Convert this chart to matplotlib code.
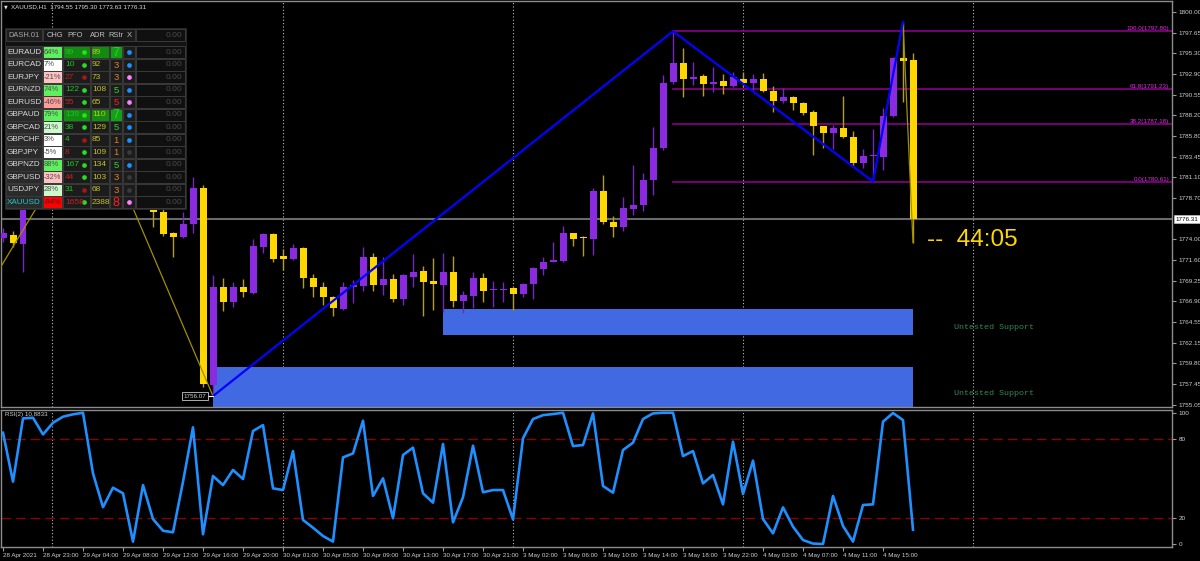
import numpy as np
import matplotlib.pyplot as plt
from matplotlib.patches import Rectangle
from matplotlib.transforms import blended_transform_factory

plt.rcParams['font.family'] = ['Liberation Sans', 'DejaVu Sans']

# XAUUSD H1, 28 Apr 2021 19:00 -> 4 May 2021 18:00 (92 bars)
opens = [1774.15, 1774.49, 1773.46, 1780.50, 1782.50, 1781.80, 1784.00, 1785.60, 1786.80, 1787.70,
         1785.20, 1782.90, 1783.50, 1783.20, 1778.20, 1778.90, 1777.12, 1774.72, 1774.26, 1775.75,
         1779.87, 1757.34, 1768.54, 1766.83, 1768.54, 1767.86, 1773.12, 1774.61, 1772.09, 1771.75,
         1773.01, 1769.57, 1768.54, 1767.40, 1766.03, 1768.54, 1768.66, 1771.97, 1768.77, 1769.46,
         1767.17, 1769.69, 1770.38, 1769.23, 1768.77, 1770.26, 1766.94, 1767.52, 1769.57, 1768.15,
         1768.20, 1768.43, 1767.75, 1768.89, 1770.60, 1771.40, 1771.52, 1774.72, 1774.12, 1774.04,
         1779.53, 1775.98, 1775.41, 1777.47, 1777.92, 1780.78, 1784.44, 1792.00, 1794.17, 1792.34,
         1792.68, 1791.76, 1792.11, 1791.54, 1792.34, 1791.88, 1792.34, 1790.96, 1789.82, 1790.28,
         1789.59, 1788.56, 1786.96, 1786.16, 1786.73, 1785.70, 1782.73, 1783.50, 1783.42, 1788.10,
         1794.74, 1794.55]
highs = [1775.29, 1774.95, 1781.00, 1783.20, 1783.50, 1784.50, 1786.00, 1787.20, 1788.00, 1788.30,
         1785.80, 1784.20, 1784.00, 1783.60, 1779.50, 1779.20, 1777.47, 1774.84, 1777.12, 1781.12,
         1780.21, 1769.92, 1769.57, 1769.12, 1769.46, 1774.04, 1774.72, 1774.72, 1772.89, 1773.47,
         1773.12, 1770.03, 1769.12, 1767.52, 1769.12, 1769.35, 1773.12, 1772.43, 1771.97, 1770.03,
         1770.03, 1772.32, 1770.95, 1771.86, 1772.43, 1772.09, 1768.09, 1770.26, 1770.15, 1769.23,
         1769.12, 1768.54, 1769.00, 1770.83, 1771.97, 1773.69, 1775.52, 1774.72, 1774.38, 1779.87,
         1781.36, 1776.66, 1778.84, 1782.50, 1781.59, 1786.85, 1792.79, 1797.80, 1795.88, 1794.28,
         1792.91, 1793.71, 1792.91, 1793.14, 1793.14, 1792.91, 1793.02, 1791.54, 1791.31, 1790.39,
         1789.70, 1788.79, 1786.96, 1787.08, 1790.39, 1786.39, 1784.33, 1786.62, 1789.02, 1794.85,
         1798.86, 1795.30]
lows = [1773.69, 1773.12, 1770.26, 1779.80, 1780.90, 1781.20, 1783.40, 1785.00, 1786.20, 1784.80,
        1782.40, 1782.10, 1782.30, 1777.90, 1777.90, 1775.41, 1774.38, 1771.97, 1774.15, 1774.72,
        1757.11, 1756.07, 1765.80, 1766.26, 1767.40, 1767.75, 1772.43, 1771.40, 1770.49, 1771.63,
        1768.43, 1767.40, 1766.49, 1765.23, 1765.91, 1766.71, 1768.09, 1768.09, 1767.63, 1766.83,
        1766.49, 1768.54, 1765.23, 1765.91, 1765.68, 1766.26, 1765.57, 1766.14, 1766.83, 1766.26,
        1766.83, 1765.91, 1767.40, 1767.17, 1769.92, 1771.40, 1771.40, 1773.24, 1772.09, 1772.20,
        1775.75, 1774.26, 1774.95, 1776.78, 1777.24, 1779.07, 1784.21, 1791.76, 1790.28, 1791.65,
        1790.39, 1790.85, 1790.62, 1791.42, 1791.42, 1791.08, 1790.85, 1788.56, 1789.59, 1788.79,
        1788.22, 1783.64, 1784.44, 1784.33, 1785.59, 1782.27, 1782.16, 1780.61, 1781.93, 1788.00,
        1789.70, 1773.63]
closes = [1774.72, 1773.58, 1780.50, 1782.50, 1781.80, 1784.00, 1785.60, 1786.80, 1787.70, 1785.20,
          1782.90, 1783.50, 1783.20, 1778.20, 1778.90, 1777.12, 1774.61, 1774.26, 1775.75, 1779.87,
          1757.45, 1768.54, 1766.83, 1768.54, 1767.97, 1773.24, 1774.61, 1771.75, 1771.75, 1773.01,
          1769.57, 1768.54, 1767.40, 1766.14, 1768.54, 1768.77, 1771.97, 1768.77, 1769.46, 1767.17,
          1769.92, 1770.26, 1769.12, 1768.89, 1770.26, 1766.94, 1767.63, 1769.57, 1768.09, 1768.20,
          1768.24, 1767.75, 1768.89, 1770.72, 1771.40, 1771.63, 1774.72, 1774.04, 1774.10, 1779.53,
          1775.98, 1775.41, 1777.58, 1777.92, 1780.78, 1784.44, 1791.88, 1794.17, 1792.34, 1792.57,
          1791.76, 1791.99, 1791.54, 1792.57, 1791.88, 1792.34, 1790.96, 1789.82, 1790.28, 1789.59,
          1788.45, 1786.96, 1786.16, 1786.73, 1785.70, 1782.73, 1783.53, 1783.55, 1788.10, 1794.74,
          1794.39, 1776.31]

rsi = [84.8, 47.5, 95.7, 96.2, 83.5, 92.4, 97.0, 98.8, 100.0, 53.8,
       28.0, 42.9, 38.6, 1.8, 44.9, 19.0, 10.1, 8.9, 47.4, 88.9,
       7.4, 51.8, 44.9, 56.4, 49.5, 86.1, 90.6, 42.4, 41.1, 70.8,
       18.3, 12.4, 6.1, 1.8, 66.0, 69.0, 93.9, 36.6, 50.0, 19.6,
       67.8, 73.4, 38.6, 31.5, 76.2, 16.5, 35.6, 74.9, 39.4, 41.1,
       41.1, 18.8, 80.5, 95.2, 98.2, 99.0, 100.0, 74.6, 75.4, 99.5,
       44.2, 39.1, 71.6, 77.2, 95.2, 99.5, 100.0, 100.0, 67.0, 70.8,
       46.2, 52.6, 30.2, 77.9, 38.1, 63.5, 19.0, 8.1, 27.9, 13.2,
       3.0, 0.3, 0.0, 36.6, 13.7, 1.8, 29.7, 30.2, 93.2, 99.8,
       94.4, 10.88]

time_ticks = list(range(0, 92, 4))
time_labels = ['28 Apr 2021', '28 Apr 23:00', '29 Apr 04:00', '29 Apr 08:00', '29 Apr 12:00',
               '29 Apr 16:00', '29 Apr 20:00', '30 Apr 01:00', '30 Apr 05:00', '30 Apr 09:00',
               '30 Apr 13:00', '30 Apr 17:00', '30 Apr 21:00', '3 May 02:00', '3 May 06:00',
               '3 May 10:00', '3 May 14:00', '3 May 18:00', '3 May 22:00', '4 May 03:00',
               '4 May 07:00', '4 May 11:00', '4 May 15:00']
day_starts = [4.9, 28, 51, 74, 97]

price_ticks = [1755.05, 1757.45, 1759.80, 1762.15, 1764.55, 1766.90, 1769.25, 1771.60, 1774.00,
               1778.70, 1781.10, 1783.45, 1785.80, 1788.20, 1790.55, 1792.90, 1795.30, 1797.65, 1800.00]
last_price = 1776.31

fib_pct = [100.0, 61.8, 38.2, 0.0]
fib_lvl = [1797.80, 1791.23, 1787.18, 1780.61]
fib_start = 67

zz_bar = [-3, 9, 21, 67, 87, 90, 91]
zz_px = [1765.60, 1788.30, 1756.07, 1797.80, 1780.61, 1798.86, 1773.63]
wave_bar = [21, 67, 87, 90]
wave_px = [1756.07, 1797.80, 1780.61, 1798.86]

zones = [(44, 91, 1763.05, 1766.03), (21, 91, 1754.50, 1759.39)]
zone_label_y = [1763.97, 1756.42]

# dashboard
pairs = ['EURAUD', 'EURCAD', 'EURJPY', 'EURNZD', 'EURUSD', 'GBPAUD', 'GBPCAD',
         'GBPCHF', 'GBPJPY', 'GBPNZD', 'GBPUSD', 'USDJPY', 'XAUUSD']
chg = [64, 7, -21, 74, -46, 79, 21, 3, -5, 88, -32, 28, -94]
pfo = [99, 10, 27, 122, 55, 139, 38, 4, 8, 167, 44, 31, 1658]
pfo_up = [1, 1, 0, 1, 0, 1, 1, 1, 0, 1, 0, 1, 0]
pfo_dot_up = [1, 1, 0, 1, 1, 1, 1, 0, 1, 1, 1, 0, 1]
adr = [89, 92, 73, 108, 65, 110, 129, 85, 109, 134, 103, 68, 2388]
rstr = [7, 3, 3, 5, 5, 7, 5, 1, 1, 5, 3, 3, 8]
rstr_dir = ['up', 'mid', 'mid', 'up', 'dn', 'up', 'up', 'mid', 'mid', 'up', 'mid', 'mid', 'dn']
x_dot = ['b', 'b', 'p', 'b', 'p', 'b', 'b', 'b', 'g', 'b', 'g', 'g', 'p']

BULL, BEAR = '#8a2be2', '#ffd700'
W, H = 1200, 561
fig = plt.figure(figsize=(W / 100, H / 100), dpi=100, facecolor='black')


def pix_axes(l, t, r, b):
    return fig.add_axes([l / W, 1 - b / H, (r - l) / W, (b - t) / H])


ax = pix_axes(1, 1, 1172, 407)
ar = pix_axes(1, 410, 1172, 547)
for a in (ax, ar):
    a.set_facecolor('black')
    a.set_xlim(-0.2, 116.9)
    for s in a.spines.values():
        s.set_color('#8c8c8c')
        s.set_linewidth(1)
    a.yaxis.tick_right()
    a.tick_params(axis='y', colors='#9a9a9a', labelcolor='#cfcfcf', labelsize=4.6,
                  length=3, pad=2)
    for d in day_starts:
        a.axvline(d, color='#bdbdbd', lw=0.8, ls=(0, (1, 2)), zorder=1)

ax.set_ylim(1754.82, 1801.26)
ax.set_xticks([])
ax.set_yticks(price_ticks)
ax.set_yticklabels([f'{v:.2f}' for v in price_ticks])

# support zones
for b0, b1, lo, hi in zones:
    ax.add_patch(Rectangle((b0, lo), b1 - b0, hi - lo, facecolor='#4169e1', edgecolor='none', zorder=1.2))
for yv in zone_label_y:
    ax.text(95.1, yv, 'Untested Support', color='#2e8b57', fontsize=6,
            family='Liberation Mono', va='center', ha='left', zorder=6)

ax.axhline(last_price, color='#6a6a6a', lw=1.5, zorder=1.5)

# fibo
for p, v in zip(fib_pct, fib_lvl):
    ax.plot([fib_start, 117], [v, v], color='#8b008b', lw=1.2, zorder=2)
    ax.text(116.6, v, f'{p:.1f}({v:.2f})', color='#e030e0', fontsize=4.5,
            ha='right', va='bottom', zorder=6)

# candles
x = np.arange(len(opens))
o, h, l, c = (np.array(v) for v in (opens, highs, lows, closes))
up = c >= o
for col, wcol, m in [(BULL, '#7328c0', up), (BEAR, '#b8a000', ~up)]:
    ax.vlines(x[m], l[m], h[m], color=wcol, lw=1, zorder=3)
    ax.bar(x[m], np.maximum(np.abs(c - o)[m], 0.12), bottom=np.minimum(o, c)[m],
           width=0.7, color=col, linewidth=0, zorder=4)

ax.plot(zz_bar, zz_px, color='#a09000', lw=0.9, zorder=5)
ax.plot(wave_bar, wave_px, color='#0000ff', lw=1.6, zorder=5)

ax.plot([20.4, 21], [wave_px[0]] * 2, color='white', lw=0.8, zorder=5)
ax.text(20.35, wave_px[0], f'{wave_px[0]:.2f}', color='#d0d0d0', fontsize=4.5, ha='right',
        va='center', zorder=6,
        bbox=dict(boxstyle='square,pad=0.25', fc='black', ec='#c8c8c8', lw=0.6))

ax.text(92.4, 1773.24, '--  44:05', color='#ffd700', fontsize=17.5, ha='left', va='baseline', zorder=6)

tr = blended_transform_factory(ax.transAxes, ax.transData)
ax.text(1.003, last_price, f'{last_price:.2f}', transform=tr, color='black', fontsize=4.5,
        ha='left', va='center', zorder=7, clip_on=False,
        bbox=dict(boxstyle='square,pad=0.3', fc='white', ec='#c0c0c0', lw=0.5))

# RSI
ar.set_ylim(-2.3, 102.1)
ar.plot(x, rsi, color='#1e90ff', lw=1.9, zorder=3)
for lv in (80, 20):
    ar.axhline(lv, color='#8b0000', lw=1, dashes=(7, 3.5), zorder=2)
ar.set_yticks([0, 20, 80, 100])
ar.set_xticks(time_ticks)
ar.set_xticklabels(time_labels)
ar.tick_params(axis='x', colors='#9a9a9a', labelcolor='#cfcfcf', labelsize=4.5, length=3, pad=1.5)
for lab in ar.get_xticklabels():
    lab.set_horizontalalignment('left')
ar.text(0.003, 0.985, 'RSI(2) 10.8833', transform=ar.transAxes, color='#cfcfcf',
        fontsize=4.5, va='top', ha='left')

# overlay in pixel coords: title + dashboard
ov = fig.add_axes([0, 0, 1, 1], zorder=10)
ov.set_xlim(0, W)
ov.set_ylim(H, 0)
ov.axis('off')
ov.patch.set_alpha(0)

ov.text(4, 7, '▼', color='#e0e0e0', fontsize=3.5, va='center', family='DejaVu Sans')
ov.text(11, 7, 'XAUUSD,H1  1794.55 1795.30 1773.63 1776.31', color='#e0e0e0',
        fontsize=4.5, va='center')


def cell(x0, x1, y0, y1, fc, ec='#3a3a3a'):
    ov.add_patch(Rectangle((x0, y0), x1 - x0, y1 - y0, facecolor=fc, edgecolor=ec, lw=0.7))


def chg_color(v):
    if v >= 60:
        return '#5ef05e'
    if v >= 15:
        return '#cdf9cd'
    if v > -15:
        return '#ffffff'
    if v > -40:
        return '#ffc2c2'
    if v > -60:
        return '#ff9c9c'
    return '#ff0000'


ov.add_patch(Rectangle((5, 28), 181, 181, facecolor='#121212', edgecolor='#2a2a2a', lw=0.7))
cell(6, 42, 29, 41, '#1e1e1e')
cell(43, 135, 29, 41, '#1a1a1a')
cell(136, 185, 29, 41, '#101010')
ov.text(24, 35, 'DASH.01', color='#a8a8a8', fontsize=5.4, ha='center', va='center')
for hx, txt in [(55, 'CHG'), (75, 'PFO'), (98, 'ADR'), (116, 'RStr'), (129, 'X')]:
    ov.text(hx, 35, txt, color='#c0c0c0', fontsize=5.4, ha='center', va='center')
ov.text(182, 35, '0.00', color='#4a4a4a', fontsize=6, ha='right', va='center')

rstr_col = {'up': '#2fd02f', 'mid': '#e0801e', 'dn': '#ff2020'}
xdot_col = {'b': '#1e90ff', 'p': '#ff80ff', 'g': '#3a3a3a'}
for k, pair in enumerate(pairs):
    y0 = 46 + 12.5 * k
    y1 = y0 + 12
    yc = (y0 + y1) / 2
    hil = rstr_dir[k] == 'up' and rstr[k] >= 7
    cell(6, 42, y0, y1, '#2a2a2a')
    ov.text(7, yc, pair, color='#20c8c8' if pair == 'XAUUSD' else '#d8d8d8',
            fontsize=5.9, va='center')
    cell(43, 62, y0, y1, chg_color(chg[k]))
    ov.text(44, yc, f'{chg[k]}%', color='#4a4a4a' if chg[k] > -60 else '#5a0000',
            fontsize=5.4, va='center')
    cell(63, 90, y0, y1, '#118c11' if hil else '#1c1c1c')
    ov.text(65, yc, f'{pfo[k]}', color='#22c022' if pfo_up[k] else '#c82020', fontsize=6, va='center')
    ov.plot(84, yc, 'o', ms=3.4, mew=0, color='#22e022' if pfo_dot_up[k] else '#a01818')
    cell(91, 109, y0, y1, '#118c11' if hil else '#1c1c1c')
    ov.text(92, yc, f'{adr[k]}', color='#c8c020', fontsize=6, va='center')
    cell(110, 122, y0, y1, '#14a014' if hil else '#1c1c1c')
    ov.text(116, yc + 0.5, f'{rstr[k]}', color=rstr_col[rstr_dir[k]],
            fontsize=9 if rstr[k] >= 7 else 6.8, ha='center', va='center')
    cell(123, 135, y0, y1, '#1c1c1c')
    ov.plot(129, yc, 'o', ms=3.4, mew=0, color=xdot_col[x_dot[k]])
    cell(136, 185, y0, y1, '#101010')
    ov.text(182, yc, '0.00', color='#4a4a4a', fontsize=6, ha='right', va='center')

fig.savefig('out.png', dpi=100, facecolor='black')
